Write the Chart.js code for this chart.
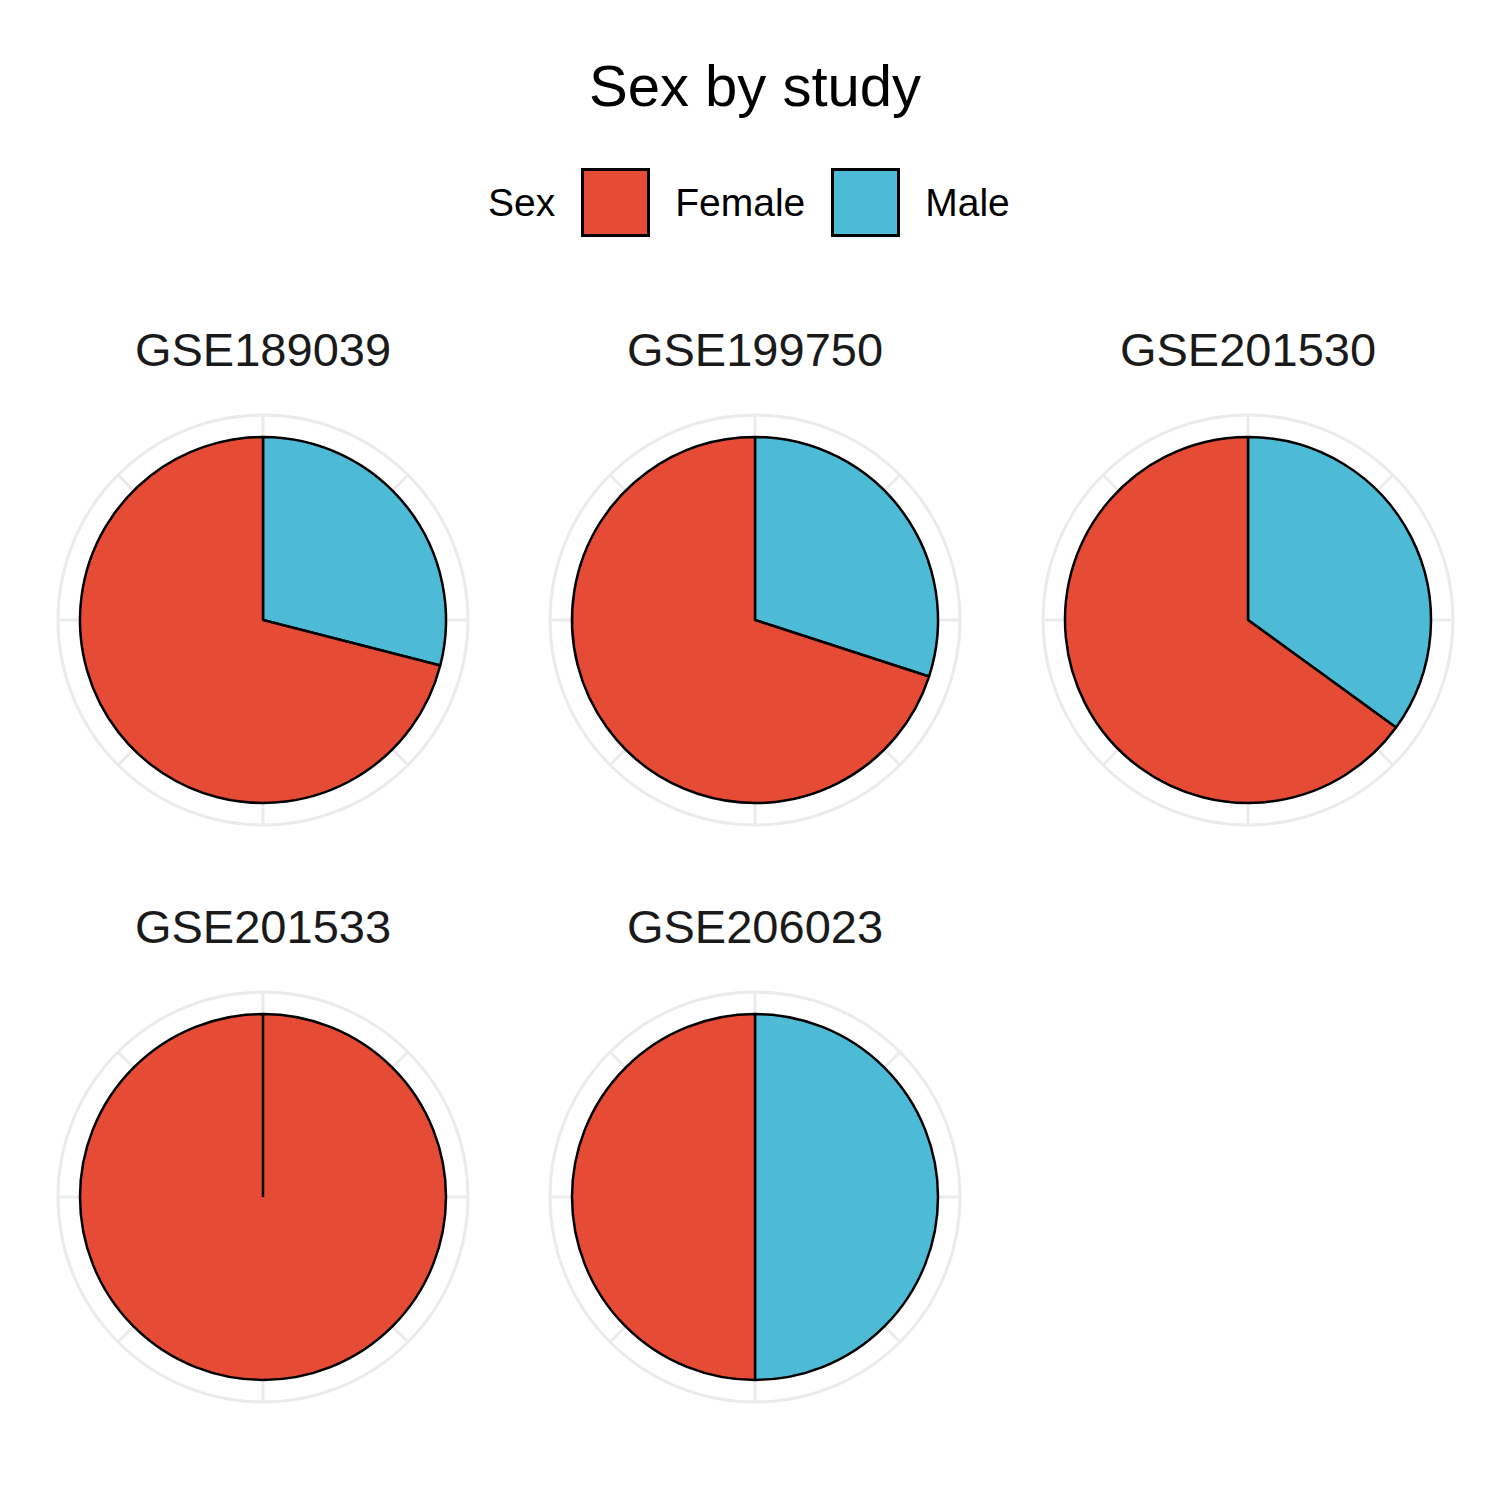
<!DOCTYPE html>
<html>
<head>
<meta charset="utf-8">
<script src="https://cdn.jsdelivr.net/npm/chart.js@4"></script>
<style>
  body { margin: 0; width: 1500px; height: 1500px; background: #fff; font-family: "Liberation Sans", Arial, sans-serif; position: relative; overflow: hidden; }
  .title { position: absolute; top: 52px; width: 1510px; text-align: center; font-size: 58px; color: #000; }
  .legend { position: absolute; top: 168px; left: 488px; display: flex; align-items: center; font-size: 39px; color: #000; }
  .box { width: 63px; height: 63px; border: 3px solid #000; margin: 0 25px 0 26px; }
  .ptitle { position: absolute; width: 460px; text-align: center; font-size: 47px; color: #1a1a1a; }
  .panel { position: absolute; width: 460px; height: 460px; }
</style>
</head>
<body>
<div class="title">Sex by study</div>
<div class="legend">
  <span>Sex</span><div class="box" style="background:#E64B35"></div><span>Female</span>
  <div class="box" style="background:#4DBBD5"></div><span>Male</span>
</div>
<script>
// proporciones
const studies = ["GSE189039", "GSE199750", "GSE201530", "GSE201533", "GSE206023"];
const sexes = ["Male", "Female"];
const male = [0.29, 0.30, 0.35, 0.0, 0.5];
const female = [0.71, 0.70, 0.65, 1.0, 0.5];
const colors = ["#4DBBD5", "#E64B35"];

const centers = [[263, 620], [755, 620], [1248, 620], [263, 1197], [755, 1197]];

// rejilla polar gris de fondo
const polarGrid = {
  id: 'polarGrid',
  beforeDatasetsDraw(chart) {
    const ctx = chart.ctx;
    const meta = chart.getDatasetMeta(0);
    const cx = meta.data[0].x, cy = meta.data[0].y;
    const r = 205;
    ctx.save();
    ctx.strokeStyle = '#ebebeb';
    ctx.lineWidth = 3;
    ctx.beginPath();
    ctx.arc(cx, cy, r, 0, Math.PI * 2);
    ctx.stroke();
    for (let i = 0; i < 8; i++) {
      const a = i * Math.PI / 4;
      ctx.beginPath();
      ctx.moveTo(cx, cy);
      ctx.lineTo(cx + r * Math.cos(a), cy + r * Math.sin(a));
      ctx.stroke();
    }
    ctx.restore();
  }
};

studies.forEach((s, i) => {
  const [cx, cy] = centers[i];
  const t = document.createElement('div');
  t.className = 'ptitle';
  t.textContent = s;
  t.style.left = (cx - 230) + 'px';
  t.style.top = (cy - 298) + 'px';
  document.body.appendChild(t);

  const d = document.createElement('div');
  d.className = 'panel';
  d.style.left = (cx - 230) + 'px';
  d.style.top = (cy - 230) + 'px';
  const c = document.createElement('canvas');
  d.appendChild(c);
  document.body.appendChild(d);

  new Chart(c.getContext('2d'), {
    type: 'pie',
    data: {
      labels: sexes,
      datasets: [{
        data: [male[i], female[i]],
        backgroundColor: colors,
        borderColor: '#000',
        borderWidth: 2.5,
        borderAlign: 'center'
      }]
    },
    options: {
      responsive: true,
      maintainAspectRatio: false,
      animation: false,
      radius: 183,
      layout: { padding: 0 },
      plugins: { legend: { display: false }, tooltip: { enabled: false } }
    },
    plugins: [polarGrid]
  });
});
</script>
</body>
</html>
